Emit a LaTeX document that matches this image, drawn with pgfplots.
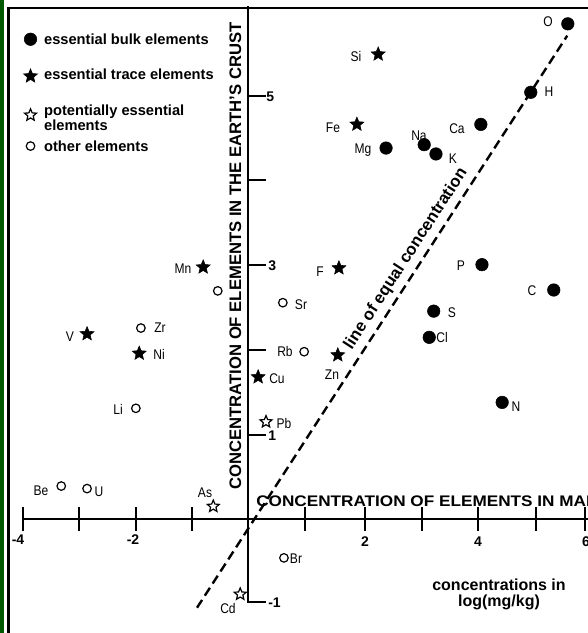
\documentclass[border=0pt]{standalone}
\usepackage{pgfplots}
\pgfplotsset{compat=1.18}
\usepackage{fontspec}
\setmainfont{Liberation Sans}
\newfontfamily\narrowfont[FakeStretch=0.86]{Liberation Sans}
\newfontfamily\widefont[FakeStretch=1.12]{Liberation Sans}

% filled / open five-pointed star
\pgfdeclareplotmark{fivestar}{%
  \pgfpathmoveto{\pgfpointpolar{90}{\pgfplotmarksize}}%
  \pgfpathlineto{\pgfpointpolar{126}{0.45\pgfplotmarksize}}%
  \pgfpathlineto{\pgfpointpolar{162}{\pgfplotmarksize}}%
  \pgfpathlineto{\pgfpointpolar{198}{0.45\pgfplotmarksize}}%
  \pgfpathlineto{\pgfpointpolar{234}{\pgfplotmarksize}}%
  \pgfpathlineto{\pgfpointpolar{270}{0.45\pgfplotmarksize}}%
  \pgfpathlineto{\pgfpointpolar{306}{\pgfplotmarksize}}%
  \pgfpathlineto{\pgfpointpolar{342}{0.45\pgfplotmarksize}}%
  \pgfpathlineto{\pgfpointpolar{18}{\pgfplotmarksize}}%
  \pgfpathlineto{\pgfpointpolar{54}{0.45\pgfplotmarksize}}%
  \pgfpathclose
  \pgfusepathqfillstroke
}

\begin{document}
\begin{tikzpicture}[x=0.75pt,y=-0.75pt,
  el/.style={font=\narrowfont\fontsize{10.5}{11}\selectfont, inner sep=0pt, text height=7.5pt, text depth=0pt},
  tl/.style={font=\fontsize{10.5}{11}\selectfont\bfseries, inner sep=0pt, text height=7.5pt, text depth=0pt},
  big/.style={font=\fontsize{12.5}{13}\selectfont\bfseries, inner sep=0pt, text height=9pt, text depth=0pt}]
\path[use as bounding box, clip] (0,0) rectangle (588,633);

% scanned frame
\fill[green!35!black] (0,0) rectangle (3.5,633);
\draw[line width=1.6pt] (8.5,633) -- (8.5,8) -- (588,8);

\begin{axis}[at={(0,0)}, anchor=north west, scale only axis,
  width=441pt, height=474.75pt, hide axis, clip=false,
  xmin=-4.412, xmax=6.070, ymin=-1.349, ymax=6.142,
  legend cell align=left,
  legend style={at={(axis description cs:0.0374,0.966)}, anchor=north west,
    draw=none, fill=none, row sep=0pt, inner sep=0pt,
    font=\fontsize{11}{9.75}\selectfont\bfseries,
    nodes={inner sep=1pt, text depth=},
    /tikz/every odd column/.append style={column sep=3pt}},
  mk/.style={only marks, legend image code/.code={%
    \path (-6pt,0pt) (6pt,0pt);\draw[##1] plot coordinates {(0pt,0pt)};}}]

% line of equal concentration
\addplot[forget plot, line width=1.8pt, dash pattern=on 7pt off 3.8pt]
  coordinates {(-0.90,-1.05) (5.70,5.72)};

% essential bulk elements
\addplot[mk, mark=*, mark size=4.7pt, mark options={fill=black, draw=black}]
  coordinates {
  (5.71,5.86) % O
  (5.05,5.05) % H
  (4.16,4.67) % Ca
  (3.15,4.43) % Na
  (3.36,4.32) % K
  (2.47,4.39) % Mg
  (4.18,3.01) % P
  (5.46,2.71) % C
  (3.32,2.46) % S
  (3.24,2.15) % Cl
  (4.54,1.38) % N
  };
\addlegendentry{\raisebox{0pt}[16.1pt][8.1pt]{essential bulk elements}}

% essential trace elements
\addplot[mk, mark=fivestar, mark size=5.5pt, mark options={fill=black, draw=black, line width=0.4pt}]
  coordinates {
  (2.33,5.50)  % Si
  (1.95,4.67)  % Fe
  (-0.79,2.98) % Mn
  (1.63,2.97)  % F
  (-2.86,2.19) % V
  (-1.93,1.96) % Ni
  (0.19,1.68)  % Cu
  (1.61,1.94)  % Zn
  };
\addlegendentry{\raisebox{0pt}[16.1pt][11.1pt]{essential trace elements}}

% potentially essential elements
\addplot[mk, mark=fivestar, mark size=4.7pt, mark options={fill=white, draw=black, line width=0.9pt}]
  coordinates {
  (0.33,1.15)   % Pb
  (-0.61,0.15)  % As
  (-0.13,-0.89) % Cd
  };
\addlegendentry{\raisebox{0pt}[25.1pt][2.1pt]{\begin{tabular}[b]{@{}l@{}}potentially essential\\elements\end{tabular}}}

% other elements
\addplot[mk, mark=*, mark size=3.2pt, mark options={fill=white, draw=black, line width=0.9pt}]
  coordinates {
  (-0.53,2.70)  % (unlabelled)
  (0.63,2.56)   % Sr
  (1.01,1.98)   % Rb
  (-1.90,2.26)  % Zr
  (-1.99,1.31)  % Li
  (-3.32,0.39)  % Be
  (-2.86,0.36)  % U
  (0.65,-0.46)  % Br
  };
\addlegendentry{\raisebox{0pt}[11.6pt][3.6pt]{other elements}}
\end{axis}

% axes drawn through the origin
\draw[line width=1.5pt] (22,519) -- (590,519);
\foreach \p in {22.7,79,136,192,248,305,365,422,478,535.7,585}
  \draw[line width=1.5pt] (\p,507) -- (\p,531);
\draw[line width=1.5pt] (247.5,6) -- (247.5,602) -- (266,602);
\foreach \p in {96,180,265,350,435}
  \draw[line width=1.5pt] (247.5,\p) -- (266,\p);

% tick labels
\node[tl] at (18,539) {-4};
\node[tl] at (133,539) {-2};
\node[tl] at (365,541) {2};
\node[tl] at (478,541) {4};
\node[tl] at (586,541) {6};
\node[tl, anchor=west] at (266,96) {5};
\node[tl, anchor=west] at (268,265) {3};
\node[tl, anchor=west] at (268,435) {1};
\node[tl, anchor=west] at (268,602) {-1};

% axis titles
\node[big, rotate=90] at (235,256) {CONCENTRATION OF ELEMENTS IN THE EARTH'S CRUST};
\node[big, font=\widefont\fontsize{11.5}{12}\selectfont\bfseries, text height=8.3pt, anchor=west] at (256,501) {CONCENTRATION OF ELEMENTS IN MAN};
\node[font=\fontsize{12.5}{13}\selectfont\bfseries, inner sep=0pt, rotate=57] at (406,259) {line of equal concentration};
\node[font=\fontsize{12}{12}\selectfont\bfseries, align=center, inner sep=0pt] at (499,594) {concentrations in\\log(mg/kg)};

% element symbols
\node[el] at (548,21) {O};
\node[el] at (356,56) {Si};
\node[el] at (549,91) {H};
\node[el] at (333,127) {Fe};
\node[el] at (457,128) {Ca};
\node[el] at (419,135) {Na};
\node[el] at (363,148) {Mg};
\node[el] at (453,158) {K};
\node[el] at (183,268) {Mn};
\node[el] at (160,327) {Zr};
\node[el] at (70,336) {V};
\node[el] at (159,354) {Ni};
\node[el] at (118,409) {Li};
\node[el] at (277,378) {Cu};
\node[el] at (284,423) {Pb};
\node[el] at (320,271) {F};
\node[el] at (301,304) {Sr};
\node[el] at (285,351) {Rb};
\node[el] at (332,374) {Zn};
\node[el] at (461,265) {P};
\node[el] at (532,290) {C};
\node[el] at (452,312) {S};
\node[el] at (442,337) {Cl};
\node[el] at (516,406) {N};
\node[el] at (41,490) {Be};
\node[el] at (99,491) {U};
\node[el] at (205,492) {As};
\node[el] at (228,608) {Cd};
\node[el] at (296,558) {Br};
\end{tikzpicture}
\end{document}
